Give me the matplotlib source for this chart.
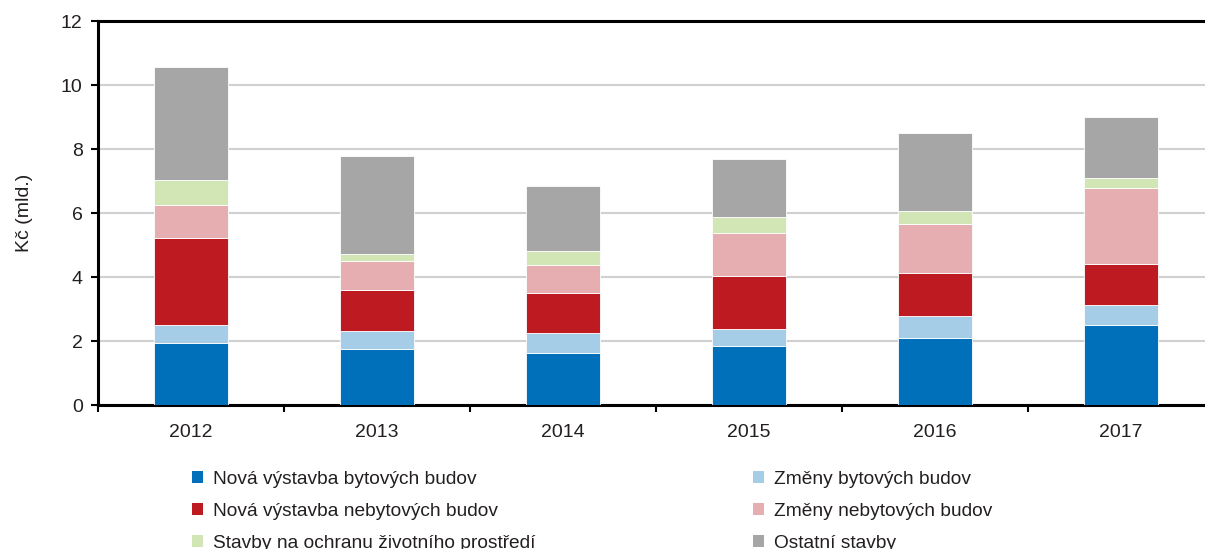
import matplotlib
matplotlib.use("Agg")
import matplotlib.pyplot as plt
from matplotlib.patches import Patch
import numpy as np

plt.rcParams['font.family'] = ['Liberation Sans', 'DejaVu Sans']

years = ["2012", "2013", "2014", "2015", "2016", "2017"]
series_names = [
    "Nová výstavba bytových budov",
    "Změny bytových budov",
    "Nová výstavba nebytových budov",
    "Změny nebytových budov",
    "Stavby na ochranu životního prostředí",
    "Ostatní stavby",
]
nova_byt = [1.93, 1.75, 1.62, 1.84, 2.08, 2.50]
zmeny_byt = [0.57, 0.55, 0.63, 0.54, 0.69, 0.63]
nova_nebyt = [2.72, 1.28, 1.25, 1.66, 1.36, 1.28]
zmeny_nebyt = [1.02, 0.92, 0.86, 1.34, 1.53, 2.36]
ochrana = [0.78, 0.22, 0.46, 0.48, 0.41, 0.32]
ostatni = [3.54, 3.06, 2.01, 1.84, 2.42, 1.92]
colors = ["#0070ba", "#a6cde7", "#be1a21", "#e6aeb0", "#d2e6b5", "#a6a6a6"]

W, H = 1205, 549
fig = plt.figure(figsize=(W / 100, H / 100), dpi=100)
ax = fig.add_axes([98 / W, 1 - 405 / H, (1214 - 98) / W, (405 - 21) / H])

x = np.arange(len(years))
bottom = np.zeros(len(years))
handles = []
for vals, c, name in zip([nova_byt, zmeny_byt, nova_nebyt, zmeny_nebyt, ochrana, ostatni],
                         colors, series_names):
    ax.bar(x, vals, 0.4, bottom=bottom, color=c, edgecolor="white", linewidth=0.6, zorder=3)
    bottom += np.array(vals)
    handles.append(Patch(facecolor=c, edgecolor="none", label=name))

ax.set_xlim(-0.5, len(years) - 0.5)
ax.set_ylim(0, 12)
ax.set_yticks(np.arange(0, 13, 2))
ax.yaxis.grid(True, color="#d0d0d0", linewidth=1.5, zorder=0)
ax.set_axisbelow(True)

ax.set_xticks(x)
ax.set_xticklabels(years)
ax.set_xticks(np.arange(-0.5, len(years)), minor=True)
ax.tick_params(axis="x", which="major", length=0, pad=14, labelsize=14, labelcolor="#231f20")
ax.tick_params(axis="x", which="minor", length=5, width=1.5, direction="out")
ax.tick_params(axis="y", length=5, width=1.5, direction="out", pad=6, labelsize=14, labelcolor="#231f20")

for s in ["left", "bottom", "top"]:
    ax.spines[s].set_linewidth(2.2)
    ax.spines[s].set_color("black")
ax.spines["right"].set_visible(False)

ax.set_ylabel("Kč (mld.)", fontsize=14, color="#231f20", labelpad=20)

# legenda ve dvou sloupcich (posledni radek je v originale oriznuty)
kw = dict(frameon=False, fontsize=13.8, handlelength=0.58, handleheight=0.58,
          handletextpad=0.55, labelspacing=0.78, loc="upper left", borderaxespad=0)
leg1 = fig.legend(handles=[handles[0], handles[2], handles[4]],
                  bbox_to_anchor=(184 / W, 1 - 463 / H), **kw)
leg2 = fig.legend(handles=[handles[1], handles[3], handles[5]],
                  bbox_to_anchor=(745 / W, 1 - 463 / H), **kw)
for leg in (leg1, leg2):
    for t in leg.get_texts():
        t.set_color("#231f20")

fig.savefig("out.png", dpi=100)
